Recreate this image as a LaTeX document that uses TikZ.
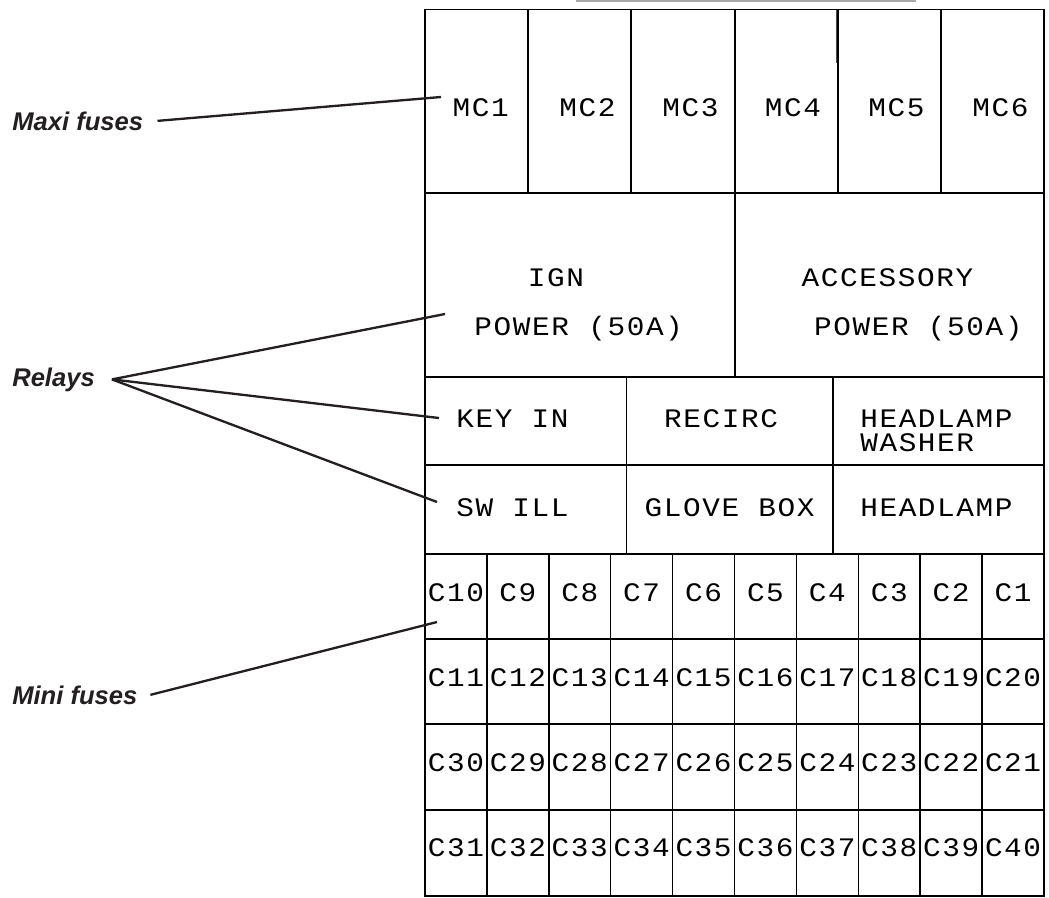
\documentclass[tikz,border=0pt]{standalone}
\usepackage{fontspec}
\setmainfont{Liberation Sans}
\newfontfamily\cadfont[FakeStretch=1.1,LetterSpace=6]{Liberation Mono}
\usetikzlibrary{positioning}
\definecolor{calloutInk}{HTML}{231F20}
\definecolor{rulerGray}{HTML}{A8A8A8}
\tikzset{
  boxline/.style={draw=black, line width=1.05pt},
  heavyline/.style={draw=black, line width=1.4pt},
  fuselabel/.style={font=\cadfont\fontsize{19}{22}\selectfont, inner sep=0pt, anchor=base},
  relaylabel/.style={fuselabel, anchor=base west},
  callout/.style={font=\fontsize{18.2}{22}\selectfont\bfseries\itshape, text=calloutInk, inner sep=0pt, anchor=base west},
  leader/.style={draw=calloutInk, line width=1.65pt},
}

\begin{document}
\begin{tikzpicture}[x=0.025cm, y=-0.025cm]
  \useasboundingbox (0,0) rectangle (1049,897);
  % stub above the box
  \draw[rulerGray, line width=1.15pt] (576,0.8) -- (916,0.8);
  % frame and row lines
  \draw[boxline] (425,9.5) rectangle (1044,896);
  \foreach \y in {193,377,465,554,639}
    \draw[boxline] (425,\y) -- (1044,\y);
  \foreach \y in {724,810}
    \draw[heavyline] (425,\y) -- (1044,\y);
  % maxi fuse columns
  \foreach \x in {528,631,735,838,941}
    \draw[boxline] (\x,9.5) -- (\x,193);
  \draw[boxline, black!70, line width=0.7pt] (836.6,9.5) -- (836.6,63);
  % relay columns
  \draw[boxline] (735,193) -- (735,377);
  \foreach \x in {626.5,833}
    \draw[boxline] (\x,377) -- (\x,554);
  % mini fuse columns
  \foreach \k in {1,...,9}
    \draw[boxline] ({425+61.9*\k},554) -- ({425+61.9*\k},896);

  % maxi fuses
  \foreach \i/\x in {1/480.7,2/587.5,3/690.5,4/793,5/896.5,6/1000.4}
    \node[fuselabel] (mc\i) at (\x,116.7) {MC\i};

  % relays
  \node[fuselabel] (ign) at (556,286) {IGN};
  \node[fuselabel] (ignpwr) at (578.7,335.3) {POWER (50A)};
  \node[fuselabel] (acc) at (887.5,286) {ACCESSORY};
  \node[fuselabel] (accpwr) at (918.4,335.3) {POWER (50A)};
  \node[relaylabel] (keyin) at (456,427.3) {KEY IN};
  \node[fuselabel] (recirc) at (721,427.3) {RECIRC};
  \node[relaylabel] (hlwasher) at (860,427.3) {HEADLAMP};
  \node[relaylabel] (washer) at (860,451.7) {WASHER};
  \node[relaylabel] (swill) at (456,516.7) {SW ILL};
  \node[fuselabel] (glovebox) at (729.6,516.7) {GLOVE BOX};
  \node[relaylabel] (headlamp) at (860,516.7) {HEADLAMP};

  % mini fuses
  \foreach \c in {1,...,10}{
    \pgfmathsetmacro{\cx}{425+61.9*(\c-0.5)}
    \pgfmathtruncatemacro{\na}{11-\c}
    \pgfmathtruncatemacro{\nb}{10+\c}
    \pgfmathtruncatemacro{\nc}{31-\c}
    \pgfmathtruncatemacro{\nd}{30+\c}
    \node[fuselabel] (c\na) at (\cx,601) {C\na};
    \node[fuselabel] (c\nb) at (\cx,686) {C\nb};
    \node[fuselabel] (c\nc) at (\cx,771.7) {C\nc};
    \node[fuselabel] (c\nd) at (\cx,856.7) {C\nd};
  }

  % callouts
  \node[callout] (maxi) at (12,130) {Maxi fuses};
  \node[callout] (relays) at (12,386) {Relays};
  \node[callout] (mini) at (12,704) {Mini fuses};
  \coordinate (relaysfan) at ([xshift=12pt]relays.east);
  \coordinate (maxitip) at (441,97);
  \coordinate (igntip) at (445,314);
  \coordinate (keytip) at (439,418);
  \coordinate (swtip) at (437,502);
  \coordinate (minitip) at (437,622);
  \draw[leader] ([xshift=10pt]maxi.east) -- (maxitip);
  \draw[leader] (relaysfan) -- (igntip);
  \draw[leader] (relaysfan) -- (keytip);
  \draw[leader] (relaysfan) -- (swtip);
  \draw[leader] ([xshift=9pt]mini.east) -- (minitip);
\end{tikzpicture}
\end{document}
